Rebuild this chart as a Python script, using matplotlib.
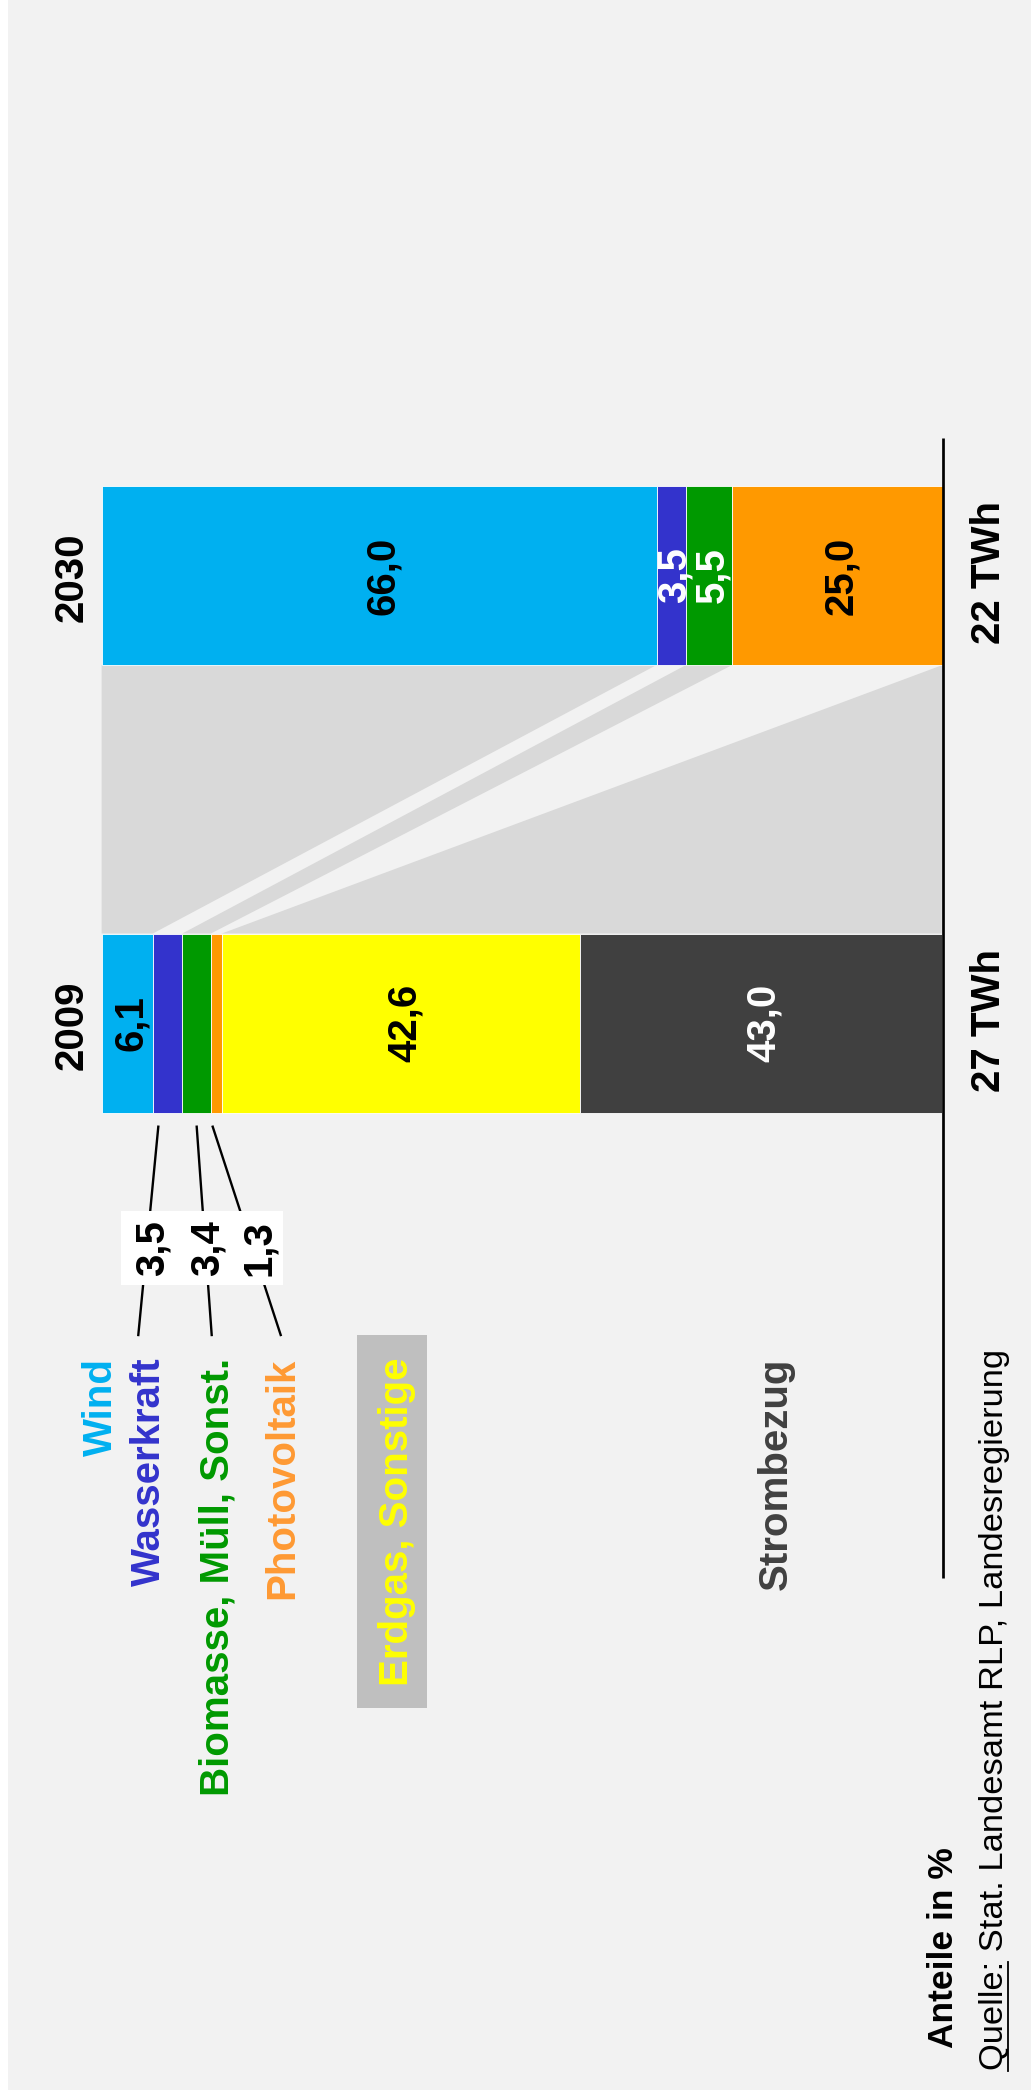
import matplotlib
matplotlib.use('Agg')
import matplotlib.pyplot as plt
from matplotlib.patches import Rectangle, Polygon
import matplotlib.transforms as mtrans
import numpy as np

# ---------------- data ----------------
years = ['2030', '2009']
totals_twh = [22, 27]
categories_2030 = ['Wind', 'Wasserkraft', 'Biomasse, Müll, Sonst.', 'Photovoltaik']
values_2030 = [66.0, 3.5, 5.5, 25.0]
categories_2009 = ['Wind', 'Wasserkraft', 'Biomasse, Müll, Sonst.', 'Photovoltaik',
                   'Erdgas, Sonstige', 'Strombezug']
values_2009 = [6.1, 3.5, 3.4, 1.3, 42.6, 43.0]
legend_labels = ['Wind', 'Wasserkraft', 'Biomasse, Müll, Sonst.', 'Photovoltaik',
                 'Erdgas, Sonstige', 'Strombezug']
bar_colors = {'Wind': '#00b0f0', 'Wasserkraft': '#3333cc', 'Biomasse, Müll, Sonst.': '#009900',
              'Photovoltaik': '#ff9900', 'Erdgas, Sonstige': '#ffff00', 'Strombezug': '#404040'}
legend_colors = {'Wind': '#00b0f0', 'Wasserkraft': '#3333cc', 'Biomasse, Müll, Sonst.': '#009900',
                 'Photovoltaik': '#ff9933', 'Erdgas, Sonstige': '#ffff00', 'Strombezug': '#404040'}
value_colors_2030 = ['black', 'white', 'white', 'black']
value_colors_2009 = ['black', None, None, None, 'black', 'white']
unit_label = 'Anteile in %'
source_prefix = 'Quelle:'
source_rest = ' Stat. Landesamt RLP, Landesregierung'

# ---------------- layout ----------------
W, H = 1031, 2096
X0, SX = 101.6, 8.409      # pixel x of 0 %, pixels per %
Y0, SY = 575.5, 447.5      # pixel y of row 0, pixels per row
BG = '#f2f2f2'
CONN = '#d9d9d9'
FONT = 'Liberation Sans'
plt.rcParams['font.family'] = [FONT, 'DejaVu Sans']


def dx(px):
    return (px - X0) / SX


def dy(py):
    return (py - Y0) / SY


fig = plt.figure(figsize=(W / 100, H / 100), dpi=100)
fig.patch.set_facecolor('white')
ax = fig.add_axes([0, 0, 1, 1])
ax.set_xlim(dx(0), dx(W))
ax.set_ylim(dy(H), dy(0))
ax.axis('off')

# gray page background
ax.add_patch(Rectangle((dx(8), dy(0)), dx(W) - dx(8), dy(2090) - dy(0),
                       facecolor=BG, edgecolor='none', zorder=0))

bar_h = 0.4
rows = {'2030': 0, '2009': 1}

# connectors
c30 = np.concatenate([[0], np.cumsum(values_2030)])
c09 = np.concatenate([[0], np.cumsum(values_2009)])
top, bot = rows['2030'] + bar_h / 2, rows['2009'] - bar_h / 2
polys = [
    [(c30[0], top), (c30[1], top), (c09[1], bot), (c09[0], bot)],       # Wind
    [(c30[2], top), (c30[3], top), (c09[3], bot), (c09[2], bot)],       # Biomasse
    [(c30[4], top), (c09[6], bot), (c09[4], bot)],                      # Rest
]
for p in polys:
    ax.add_patch(Polygon(p, closed=True, facecolor=CONN, edgecolor='none', zorder=1))

# bars
ax.barh([rows['2030']] * len(values_2030), values_2030, left=c30[:-1], height=bar_h,
        color=[bar_colors[c] for c in categories_2030], edgecolor='white', linewidth=0.6, zorder=2)
ax.barh([rows['2009']] * len(values_2009), values_2009, left=c09[:-1], height=bar_h,
        color=[bar_colors[c] for c in categories_2009], edgecolor='white', linewidth=0.6, zorder=2)

# value labels inside bars
vtrans = mtrans.offset_copy(ax.transData, fig=fig, x=14.5, y=0, units='dots')
fmt = lambda v: f'{v:.1f}'.replace('.', ',')
for vals, cum, cols, r in [(values_2030, c30, value_colors_2030, rows['2030']),
                           (values_2009, c09, value_colors_2009, rows['2009'])]:
    for v, l, c in zip(vals, cum[:-1], cols):
        if c is None:
            continue
        ax.text(l + v / 2, r, fmt(v), transform=vtrans, rotation=90, rotation_mode='anchor',
                ha='center', va='baseline', color=c, fontsize=29, fontweight='bold', zorder=5)

# axis line at 100 %
ax.plot([100, 100], [dy(438), dy(1578)], color='black', lw=1.95, solid_capstyle='butt', zorder=3)


def rtext(px, py, s, ha='center', **kw):
    ax.text(dx(px), dy(py), s, rotation=90, rotation_mode='anchor', ha=ha,
            va='baseline', **kw)


# year labels and totals
for yr, tot, cy, cy2 in zip(years, totals_twh, [577, 1025], [573, 1020]):
    rtext(82.7, cy, yr, fontsize=29, fontweight='bold', color='black')
    rtext(999.5, cy2, f'{tot} TWh', fontsize=29, fontweight='bold', color='black')

# leader lines for small 2009 segments
leaders = [((158.3, 1126.7), (138.3, 1335)),
           ((196.7, 1126.7), (211.7, 1335)),
           ((212.7, 1126.7), (280.7, 1335))]
for (x1, y1), (x2, y2) in leaders:
    ax.plot([dx(x1), dx(x2)], [dy(y1), dy(y2)], color='black', lw=1.7, zorder=3)
ax.add_patch(Rectangle((dx(121), dy(1211)), dx(283) - dx(121), dy(1285) - dy(1211),
                       facecolor='white', edgecolor='none', zorder=4))
for v, bx in zip(values_2009[1:4], [163.3, 218.3, 270.0]):
    ax.text(dx(bx), dy(1248), fmt(v), rotation=90, rotation_mode='anchor', ha='center',
            va='baseline', fontsize=29, fontweight='bold', color='black', zorder=5)

# category labels
label_pos = {'Wind': 111.7, 'Wasserkraft': 160.0, 'Biomasse, Müll, Sonst.': 228.3,
             'Photovoltaik': 293.3, 'Erdgas, Sonstige': 408.3, 'Strombezug': 786.7}
ax.add_patch(Rectangle((dx(357), dy(1335)), dx(427) - dx(357), dy(1708) - dy(1335),
                       facecolor='#bfbfbf', edgecolor='none', zorder=3))
for lab in legend_labels:
    ax.text(dx(label_pos[lab]), dy(1357.5), lab, rotation=90, rotation_mode='anchor',
            ha='right', va='baseline', fontsize=29, fontweight='bold',
            color=legend_colors[lab], zorder=5)

# unit and source
rtext(953, 2048, unit_label, ha='left', fontsize=25.5, fontweight='bold', color='black')
rtext(1003, 2070, source_prefix + source_rest, ha='left', fontsize=24.8, color='black')
ax.plot([dx(1007.5), dx(1007.5)], [dy(2071), dy(1962)], color='black', lw=1.3, zorder=3)

fig.savefig('out.png', dpi=100, facecolor=fig.get_facecolor())
